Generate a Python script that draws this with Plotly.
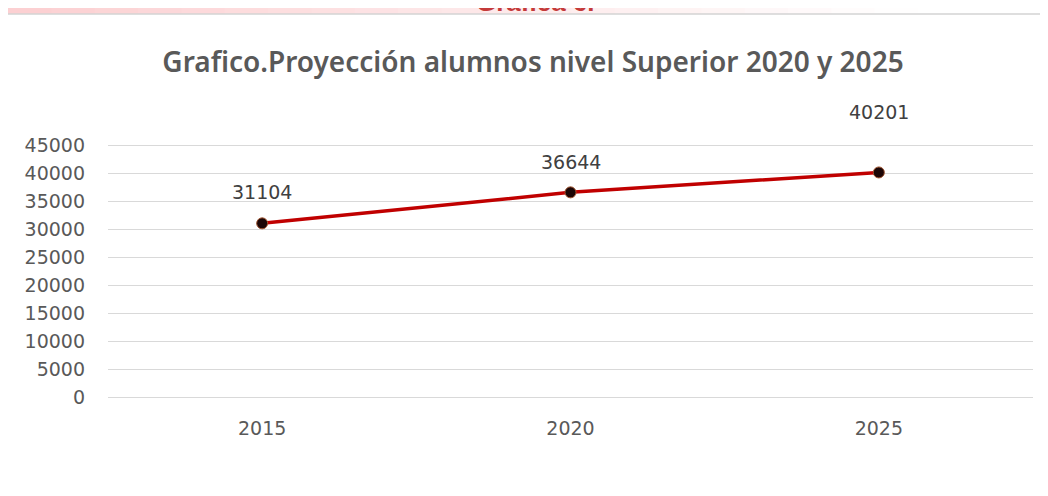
import plotly.graph_objects as go

# datos
anios = ["2015", "2020", "2025"]
alumnos = [31104, 36644, 40201]
y_ticks = [0, 5000, 10000, 15000, 20000, 25000, 30000, 35000, 40000, 45000]

titulo = "Grafico.Proyección alumnos nivel Superior 2020 y 2025"
encabezado = "Gráfica 6."

# la pagina tiene 8px de margen en el body, por eso la figura es 8px mas chica
W, H = 1040, 488
L, R, T, B = 100, 15, 132, 93
PW, PH = W - L - R, H - T - B


def px_x(x):
    return (x - L) / PW


def px_y(y):
    return (H - B - y) / PH


def mezcla(c1, c2, f):
    a = [int(c1[i:i + 2], 16) for i in (1, 3, 5)]
    b = [int(c2[i:i + 2], 16) for i in (1, 3, 5)]
    return "#%02x%02x%02x" % tuple(round(a[k] + (b[k] - a[k]) * f) for k in range(3))


fig = go.Figure()

fig.add_trace(go.Scatter(
    x=anios, y=alumnos,
    mode="lines+markers",
    line=dict(color="#c00000", width=3.5),
    marker=dict(size=11, color="#1c0606", line=dict(color="#a0522d", width=1)),
    hoverinfo="x+y",
    showlegend=False,
))

# etiquetas de datos (la ultima va mas arriba, como en el original)
desplazamientos = [31, 30, 60]
for i, (v, d) in enumerate(zip(alumnos, desplazamientos)):
    fig.add_annotation(x=i, y=v, text=str(v), showarrow=False, yshift=d,
                       font=dict(family="DejaVu Sans", size=19, color="#404040"))

# franja rosada arriba del cuadro blanco
formas = []
n = 24
for i in range(n):
    x0 = i * W / n
    x1 = (i + 1) * W / n
    col = mezcla("#fcd0d2", "#ffffff", min(1, i / (n * 0.85)))
    formas.append(dict(type="rect", xref="paper", yref="paper", layer="below",
                       x0=px_x(x0), x1=px_x(x1 + 1), y0=px_y(6), y1=px_y(-2),
                       fillcolor=col, line=dict(width=0)))
formas.append(dict(type="rect", xref="paper", yref="paper", layer="below",
                   x0=px_x(-2), x1=px_x(W + 10), y0=px_y(H + 10), y1=px_y(6),
                   fillcolor="white", line=dict(color="#d4d4d4", width=1.5)))

fig.add_annotation(xref="paper", yref="paper", x=px_x(527), y=px_y(11),
                   xanchor="center", yanchor="bottom", showarrow=False,
                   text="<b>" + encabezado + "</b>",
                   font=dict(family="Liberation Sans", size=26, color="#c43a3a"))

fig.update_layout(
    width=W, height=H,
    margin=dict(l=L, r=R, t=T, b=B),
    paper_bgcolor="white",
    plot_bgcolor="rgba(0,0,0,0)",
    shapes=formas,
    title=dict(text=titulo, x=525 / W, xanchor="center", xref="container",
               y=1 - 54 / H, yanchor="middle",
               font=dict(family="Noto Sans", size=28, weight=600, color="#595959")),
    xaxis=dict(type="category", range=[-0.5, 2.5], showgrid=False, zeroline=False,
               showline=False, ticks="", ticklabelstandoff=12,
               tickfont=dict(family="DejaVu Sans", size=19, color="#595959")),
    yaxis=dict(range=[-1000, 46000], tickvals=y_ticks, tickformat="d", showgrid=True,
               gridcolor="#d9d9d9", gridwidth=1, zeroline=False, showline=False,
               ticks="", ticklabelstandoff=22,
               tickfont=dict(family="DejaVu Sans", size=19, color="#595959")),
)

fig.write_html("out.html")
